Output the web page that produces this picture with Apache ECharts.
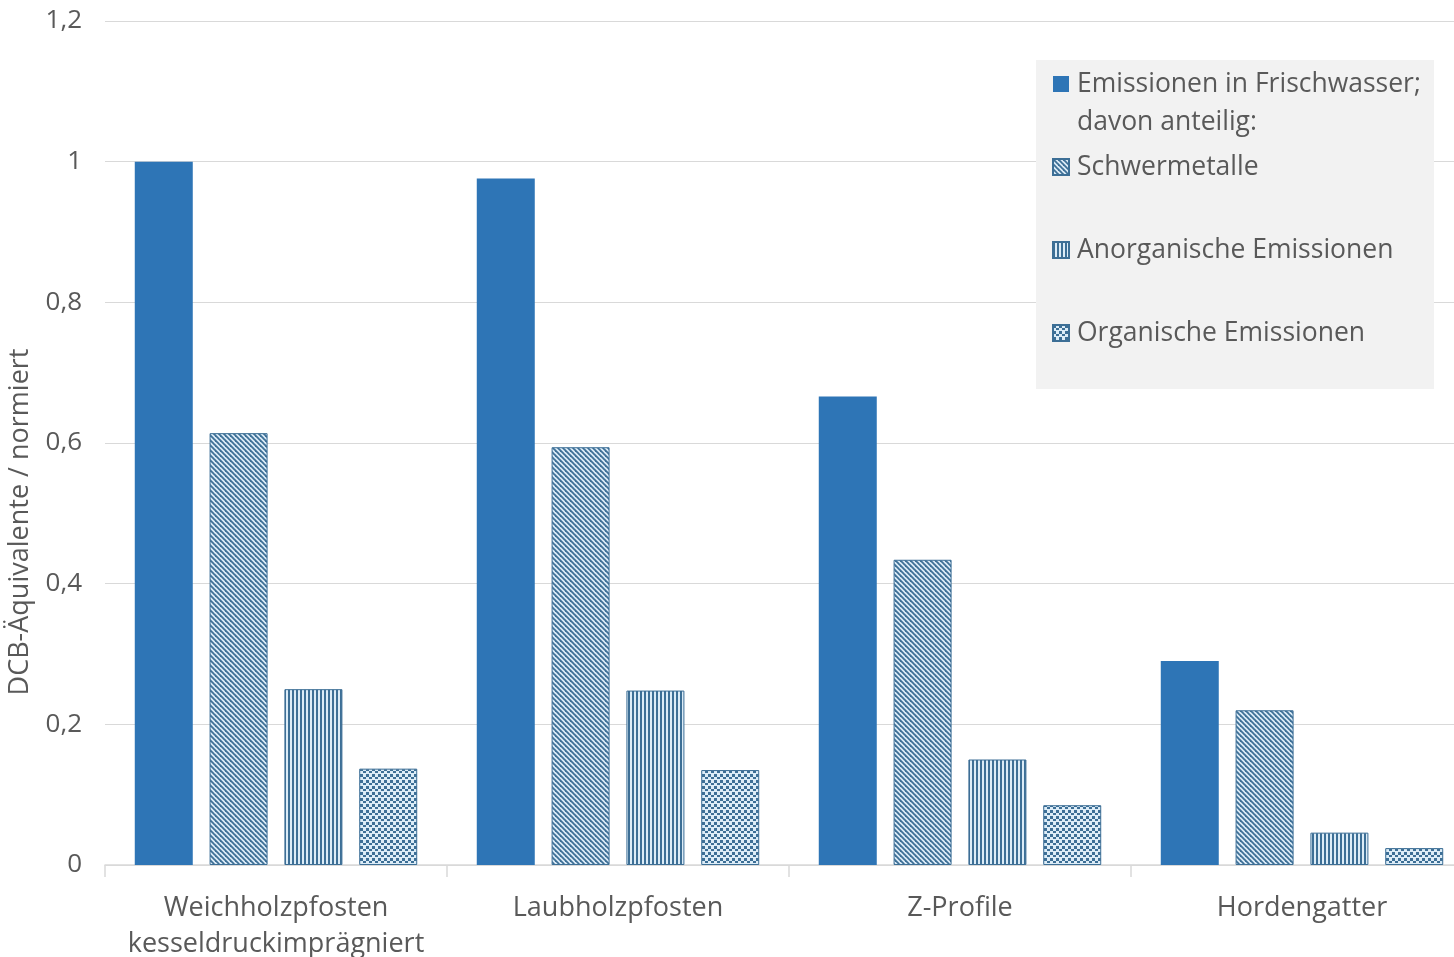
<!DOCTYPE html>
<html>
<head>
<meta charset="utf-8">
<script src="https://cdn.jsdelivr.net/npm/echarts@6/dist/echarts.min.js"></script>
<style>
  html, body { margin: 0; padding: 0; background: #fff; }
  #chart { width: 1454px; height: 957px; }
</style>
</head>
<body>
<div id="chart"></div>
<script>
const categories = ['Weichholzpfosten\nkesseldruckimprägniert', 'Laubholzpfosten', 'Z-Profile', 'Hordengatter'];
const seriesNames = ['Emissionen in Frischwasser;\ndavon anteilig:', 'Schwermetalle', 'Anorganische Emissionen', 'Organische Emissionen'];
const frischwasser = [1.0, 0.976, 0.666, 0.29];
const schwermetalle = [0.614, 0.594, 0.434, 0.22];
const anorganisch = [0.25, 0.248, 0.15, 0.046];
const organisch = [0.137, 0.135, 0.085, 0.024];
const yTicks = [0, 0.2, 0.4, 0.6, 0.8, 1, 1.2];

const BLUE = '#2e75b6';
const DARK = '#3d6f96';
const LIGHT = '#dcecf7';
const TEXT = '#595959';
const FONT = '"Open Sans", "Noto Sans", sans-serif';

// pattern tiles drawn on small canvases
const makeTile = (size, draw) => {
  const c = document.createElement('canvas');
  c.width = size;
  c.height = size;
  const ctx = c.getContext('2d');
  ctx.fillStyle = LIGHT;
  ctx.fillRect(0, 0, size, size);
  ctx.strokeStyle = DARK;
  ctx.fillStyle = DARK;
  draw(ctx, size);
  return { image: c, repeat: 'repeat' };
};

const diagonal = makeTile(5, (ctx, s) => {
  ctx.lineWidth = 1.8;
  [-s, 0, s].forEach((o) => {
    ctx.beginPath();
    ctx.moveTo(o - 1, -1);
    ctx.lineTo(o + s + 1, s + 1);
    ctx.stroke();
  });
});

const vertical = makeTile(4, (ctx, s) => {
  ctx.fillRect(0, 0, 2, s);
});

const dots = makeTile(6, (ctx) => {
  ctx.fillRect(0, 0, 3, 3);
  ctx.fillRect(3, 3, 3, 2);
});

const fills = [BLUE, diagonal, vertical, dots];
const values = [frischwasser, schwermetalle, anorganisch, organisch];

const chart = echarts.init(document.getElementById('chart'));

const option = {
  animation: false,
  textStyle: { fontFamily: FONT },
  grid: { left: 105, right: -19, top: 21, bottom: 92, containLabel: false, outerBoundsMode: 'none' },
  graphic: [
    {
      type: 'rect',
      z: 5,
      shape: { x: 1036, y: 60, width: 398, height: 329 },
      style: { fill: '#f2f2f2' },
    },
  ],
  legend: {
    orient: 'vertical',
    left: 1052,
    top: 27,
    padding: 0,
    itemGap: -31,
    itemWidth: 16,
    itemHeight: 16,
    icon: 'rect',
    z: 10,
    selectedMode: false,
    // blank lines keep the first text line level with the icon
    formatter: (name) => (name === seriesNames[0] ? ` \n${name}` : ` \n${name}\n `),
    textStyle: { fontSize: 26.5, color: TEXT, fontFamily: FONT, lineHeight: 38, padding: [0, 0, 0, 3] },
    data: seriesNames,
  },
  xAxis: {
    type: 'category',
    data: categories,
    axisLine: { lineStyle: { color: '#d9d9d9', width: 1.5 } },
    axisTick: { show: true, length: 12, lineStyle: { color: '#d9d9d9', width: 1.5 } },
    axisLabel: { fontSize: 27, color: TEXT, lineHeight: 36, margin: 25, interval: 0 },
  },
  yAxis: {
    type: 'value',
    min: 0,
    max: 1.2,
    interval: 0.2,
    name: 'DCB-Äquivalente / normiert',
    nameLocation: 'middle',
    nameGap: 71,
    nameTextStyle: { fontSize: 27, color: TEXT, padding: [0, 158, 0, 0] },
    axisLine: { show: false },
    axisTick: { show: false },
    splitLine: { lineStyle: { color: '#d9d9d9', width: 1.2 } },
    axisLabel: {
      fontSize: 26,
      color: TEXT,
      margin: 23,
      formatter: (v) => (yTicks.includes(Math.round(v * 10) / 10) ? String(Math.round(v * 10) / 10).replace('.', ',') : ''),
    },
  },
  series: seriesNames.map((name, i) => ({
    name,
    type: 'bar',
    data: values[i],
    barWidth: 58,
    barGap: '29%',
    itemStyle: {
      color: fills[i],
      borderColor: i === 0 ? BLUE : DARK,
      borderWidth: i === 0 ? 0 : 1,
    },
  })),
};

chart.setOption(option);
</script>
</body>
</html>
